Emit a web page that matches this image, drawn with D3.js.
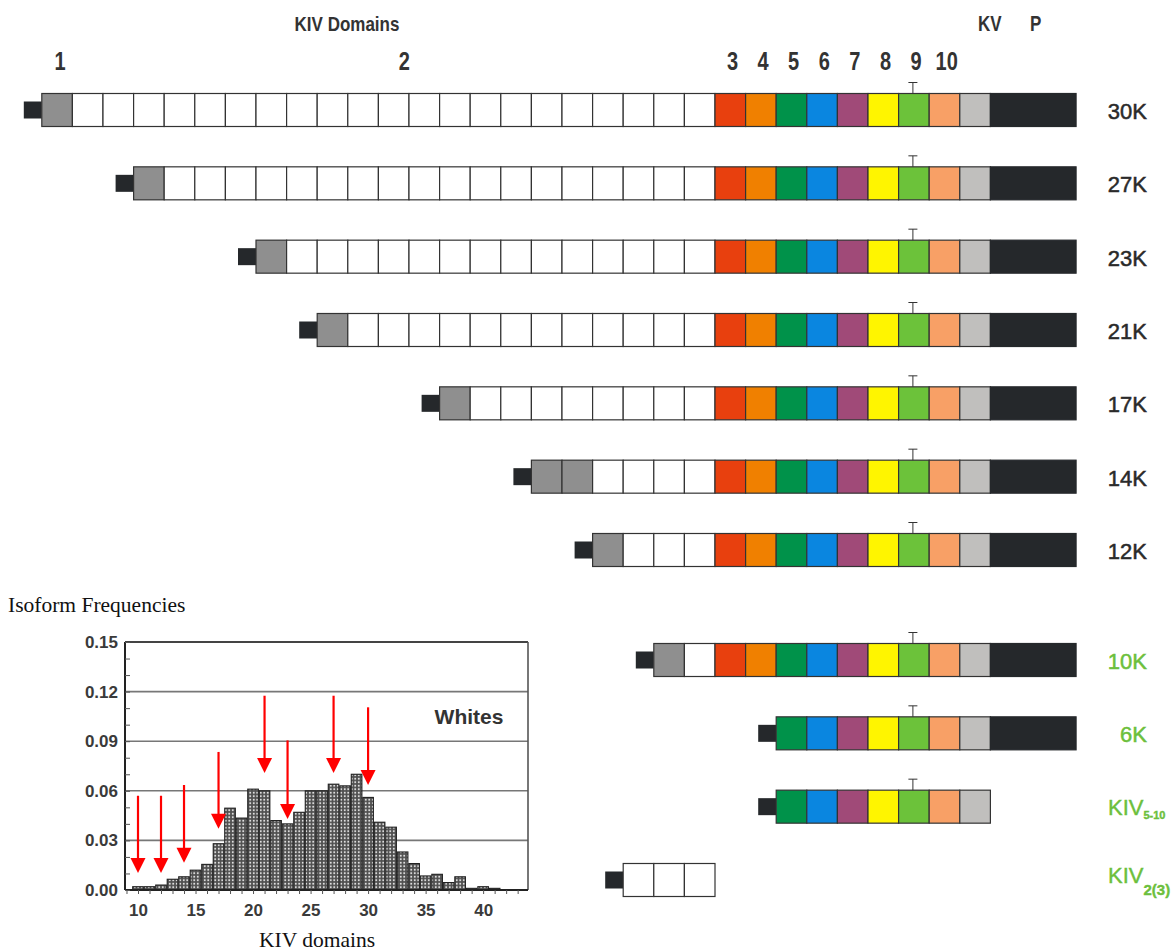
<!DOCTYPE html>
<html>
<head>
<meta charset="utf-8">
<script src="https://cdn.jsdelivr.net/npm/d3@7"></script>
<style>
  html, body { margin: 0; padding: 0; background: #fff; }
  svg { display: block; }
</style>
</head>
<body>
<svg id="chart" width="1175" height="951"></svg>
<script>
// ---------------- DATA ----------------
// Isoform diagram
const isoformMain = ["30K", "27K", "23K", "21K", "17K", "14K", "12K", "10K", "6K", "KIV", "KIV"];
const isoformSub  = ["", "", "", "", "", "", "", "", "", "5-10", "2(3)"];
const isoformHighlight = [false, false, false, false, false, false, false, true, true, true, true];
const kiv2Copies  = [21, 18, 14, 12, 8, 5, 3, 1, 0, 0, 3];
const kiv2GrayCopies = [0, 0, 0, 0, 0, 1, 0, 0, 0, 0, 0];
const firstDomain = ["1", "1", "1", "1", "1", "1", "1", "1", "5", "5", "2"];
const lastDomain  = ["P", "P", "P", "P", "P", "P", "P", "P", "P", "KV", "2"];
const domainOrder = ["1", "2", "3", "4", "5", "6", "7", "8", "9", "10", "KV", "P"];
const domainHeader = ["1", "2", "3", "4", "5", "6", "7", "8", "9", "10", "KV", "P"];

// Histogram (isoform frequencies, Whites)
const histDomains = [10, 11, 12, 13, 14, 15, 16, 17, 18, 19, 20, 21, 22, 23, 24, 25,
                     26, 27, 28, 29, 30, 31, 32, 33, 34, 35, 36, 37, 38, 39, 40, 41];
const histFreq = [0.002, 0.002, 0.003, 0.0065, 0.008, 0.012, 0.0155, 0.028, 0.0495, 0.0435,
                  0.061, 0.060, 0.042, 0.040, 0.047, 0.060, 0.060, 0.064, 0.063, 0.070,
                  0.056, 0.041, 0.038, 0.023, 0.016, 0.0085, 0.0095, 0.0045, 0.008, 0.001,
                  0.002, 0.001];
const yTicks = [0.00, 0.03, 0.06, 0.09, 0.12, 0.15];
const xTicks = [10, 15, 20, 25, 30, 35, 40];
const arrowK    = [10, 12, 14, 17, 21, 23, 27, 30];
const arrowFrom = [0.057, 0.057, 0.0635, 0.0835, 0.1175, 0.0905, 0.1175, 0.1105];
const arrowTo   = [0.0103, 0.0103, 0.0165, 0.037, 0.0708, 0.043, 0.0708, 0.0635];

// ---------------- STYLE ----------------
const domainColor = {
  "1": "#8f8f8f", "2": "#ffffff", "3": "#e8400e", "4": "#f08000", "5": "#00924a",
  "6": "#0a86e0", "7": "#a04a78", "8": "#fff500", "9": "#6cc23a", "10": "#f8a066",
  "KV": "#c0bfbd", "P": "#25282b"
};
const greenLabel = "#6cbf3c";
const darkText = "#2a2a2a";

const svg = d3.select("#chart");
svg.append("rect").attr("width", 1175).attr("height", 951).attr("fill", "#fff");

// ---------------- DIAGRAM ----------------
const colW = 30.6;
const col = d3.scaleLinear().domain([0, 1]).range([715, 715 + colW]);  // column 0 = KIV3
const rowSlot = [0, 1, 2, 3, 4, 5, 6, 7.5, 8.5, 9.5, 10.5];
const rowY = d3.scaleLinear().domain([0, 10.5]).range([110, 880]);
const boxH = 33;
const pCols = 2.8;

function domainCol(d) {  // column for the fixed domains (3..P)
  return domainOrder.indexOf(d) - 2;
}

const isoforms = isoformMain.map((m, i) => {
  const segs = [];
  const n = kiv2Copies[i];
  const fi = domainOrder.indexOf(firstDomain[i]);
  const li = domainOrder.indexOf(lastDomain[i]);
  if (fi <= 0 && li >= 0) segs.push({ dom: "1", c: -n - 1, w: 1 });
  if (fi <= 1 && li >= 1) {
    for (let k = 0; k < n; k++) {
      segs.push({ dom: k < kiv2GrayCopies[i] ? "1" : "2", c: -n + k, w: 1 });
    }
  }
  for (let j = Math.max(fi, 2); j <= li; j++) {
    const d = domainOrder[j];
    segs.push({ dom: d, c: domainCol(d), w: d === "P" ? pCols : 1 });
  }
  return { i, segs, y: rowY(rowSlot[i]) };
});

const diag = svg.append("g");
isoforms.forEach(iso => {
  const g = diag.append("g");
  const start = d3.min(iso.segs, s => col(s.c));
  g.append("rect")
    .attr("x", start - 18).attr("y", iso.y - 8.5)
    .attr("width", 18).attr("height", 17)
    .attr("fill", "#25282b");
  g.selectAll("rect.box").data(iso.segs).join("rect")
    .attr("class", "box")
    .attr("x", s => col(s.c))
    .attr("y", iso.y - boxH / 2)
    .attr("width", s => col(s.c + s.w) - col(s.c))
    .attr("height", boxH)
    .attr("fill", s => domainColor[s.dom])
    .attr("stroke", s => s.dom === "P" ? "#25282b" : "#333")
    .attr("stroke-width", 1.2);
  const s9 = iso.segs.find(s => s.dom === "9");
  if (s9) {
    const cx = (col(s9.c) + col(s9.c + 1)) / 2 - 1;
    const top = iso.y - boxH / 2;
    g.append("line").attr("x1", cx).attr("x2", cx).attr("y1", top - 11).attr("y2", top)
      .attr("stroke", "#333").attr("stroke-width", 1);
    g.append("line").attr("x1", cx - 4.5).attr("x2", cx + 4.5).attr("y1", top - 11).attr("y2", top - 11)
      .attr("stroke", "#333").attr("stroke-width", 1);
  }
  const color = isoformHighlight[iso.i] ? greenLabel : darkText;
  if (isoformSub[iso.i] === "") {
    g.append("text")
      .attr("x", 1147).attr("y", iso.y + 9)
      .attr("text-anchor", "end")
      .attr("font-family", "Liberation Sans, Arial, sans-serif")
      .attr("font-size", 22)
      .attr("fill", color)
      .attr("stroke", color).attr("stroke-width", 0.5)
      .text(isoformMain[iso.i]);
  } else {
    const t = g.append("text")
      .attr("x", 1108).attr("y", iso.y + (iso.i === 9 ? 8 : 3))
      .attr("font-family", "Liberation Sans, Arial, sans-serif")
      .attr("font-size", 22)
      .attr("fill", color)
      .attr("stroke", color).attr("stroke-width", 0.4);
    t.append("tspan").text(isoformMain[iso.i]);
    t.append("tspan")
      .attr("dy", iso.i === 9 ? 4 : 12)
      .attr("font-size", iso.i === 9 ? 11 : 15)
      .attr("font-weight", "bold")
      .text(isoformSub[iso.i]);
  }
});

// Header labels
const headerFont = "Liberation Sans, Arial, sans-serif";
function stretchedText(x, y, txt, size, sy) {
  svg.append("text")
    .attr("transform", `translate(${x},${y}) scale(1,${sy})`)
    .attr("text-anchor", "middle")
    .attr("font-family", headerFont)
    .attr("font-weight", "bold")
    .attr("font-size", size)
    .attr("fill", "#333")
    .text(txt);
}
stretchedText(347, 31, "KIV Domains", 17, 1.2);
const headerColPos = { "1": -21.4, "2": -10.15, "KV": 8.98, "P": 10.48 };
domainHeader.forEach(d => {
  let c, y, size, sy;
  if (d === "KV" || d === "P") { c = headerColPos[d]; y = 31; size = 17; sy = 1.3; }
  else if (d === "1" || d === "2") { c = headerColPos[d]; y = 70; size = 20; sy = 1.25; }
  else { c = domainCol(d) + 0.5 + 0.07; y = 70; size = 20; sy = 1.25; }
  stretchedText(col(c), y, d, size, sy);
});

// ---------------- HISTOGRAM ----------------
const hx = d3.scaleLinear().domain([8.87, 43.9]).range([125, 528]);
const hy = d3.scaleLinear().domain([0, 0.15]).range([890, 642]);
const hist = svg.append("g");

const defs = svg.append("defs");
const pat = defs.append("pattern").attr("id", "dots")
  .attr("patternUnits", "userSpaceOnUse").attr("width", 3.5).attr("height", 3.5);
pat.append("rect").attr("width", 3.5).attr("height", 3.5).attr("fill", "#505050");
pat.append("circle").attr("cx", 1.75).attr("cy", 1.75).attr("r", 1.0).attr("fill", "#e6e6e6");

hist.selectAll("line.grid").data(yTicks.filter(v => v > 0 && v < 0.15)).join("line")
  .attr("x1", hx.range()[0]).attr("x2", hx.range()[1])
  .attr("y1", d => hy(d)).attr("y2", d => hy(d))
  .attr("stroke", "#777").attr("stroke-width", 1.6);
hist.append("line").attr("x1", 125).attr("x2", 528).attr("y1", hy(0.15)).attr("y2", hy(0.15))
  .attr("stroke", "#444").attr("stroke-width", 2);
hist.append("line").attr("x1", 528).attr("x2", 528).attr("y1", hy(0.15)).attr("y2", hy(0))
  .attr("stroke", "#555").attr("stroke-width", 1.6);

const bw = 10.6;
hist.selectAll("rect.bar").data(histDomains).join("rect")
  .attr("class", "bar")
  .attr("x", (d) => hx(d) - bw / 2)
  .attr("y", (d, i) => hy(histFreq[i]))
  .attr("width", bw)
  .attr("height", (d, i) => hy(0) - hy(histFreq[i]))
  .attr("fill", "url(#dots)")
  .attr("stroke", "#222").attr("stroke-width", 1.1);

hist.append("line").attr("x1", 125).attr("x2", 125).attr("y1", hy(0.15)).attr("y2", hy(0))
  .attr("stroke", "#222").attr("stroke-width", 2);
hist.append("line").attr("x1", 125).attr("x2", 528).attr("y1", hy(0)).attr("y2", hy(0))
  .attr("stroke", "#222").attr("stroke-width", 2);

const yAxis = d3.axisLeft(hy).tickValues(yTicks).tickFormat(d3.format(".2f")).tickSize(0).tickPadding(7);
const ya = hist.append("g").attr("transform", "translate(125,0)").call(yAxis);
ya.select(".domain").remove();
ya.selectAll("text")
  .attr("font-family", "Liberation Sans, Arial, sans-serif")
  .attr("font-weight", "bold").attr("font-size", 17).attr("fill", "#3a3a3a");
const yMinor = d3.axisRight(hy).ticks(15).tickSize(5).tickFormat("");
const ym = hist.append("g").attr("transform", "translate(125,0)").call(yMinor);
ym.select(".domain").remove();
ym.selectAll("line").attr("stroke", "#555").attr("stroke-width", 1);

const xAxis = d3.axisBottom(hx).tickValues(xTicks).tickFormat(d3.format("d")).tickSize(0).tickPadding(14);
const xa = hist.append("g").attr("transform", `translate(0,${hy(0)})`).call(xAxis);
xa.select(".domain").remove();
xa.selectAll("text")
  .attr("font-family", "Liberation Sans, Arial, sans-serif")
  .attr("font-weight", "bold").attr("font-size", 17).attr("fill", "#3a3a3a");
const xMinor = d3.axisBottom(hx).tickValues(d3.range(9, 44)).tickSize(4).tickFormat("");
const xm = hist.append("g").attr("transform", `translate(0,${hy(0)})`).call(xMinor);
xm.select(".domain").remove();
xm.selectAll("line").attr("stroke", "#555").attr("stroke-width", 1);

hist.append("text").attr("x", 469).attr("y", 724).attr("text-anchor", "middle")
  .attr("font-family", "Liberation Sans, Arial, sans-serif")
  .attr("font-weight", "bold").attr("font-size", 21).attr("fill", "#333")
  .text("Whites");

const headH = 15, headW = 15;
arrowK.forEach((k, i) => {
  const x = hx(k);
  const y0 = hy(arrowFrom[i]);
  const y1 = hy(arrowTo[i]);
  hist.append("line").attr("x1", x).attr("x2", x).attr("y1", y0).attr("y2", y1 - headH + 2)
    .attr("stroke", "#ff0000").attr("stroke-width", 2.2);
  hist.append("path")
    .attr("d", `M${x - headW / 2},${y1 - headH} L${x + headW / 2},${y1 - headH} L${x},${y1} Z`)
    .attr("fill", "#ff0000");
});

svg.append("text").attr("x", 8).attr("y", 612)
  .attr("font-family", "Liberation Serif, 'Times New Roman', serif")
  .attr("font-size", 21.5).attr("fill", "#111")
  .text("Isoform Frequencies");
svg.append("text").attr("x", 317).attr("y", 947).attr("text-anchor", "middle")
  .attr("font-family", "Liberation Serif, 'Times New Roman', serif")
  .attr("font-size", 21.5).attr("fill", "#111")
  .text("KIV domains");
</script>
</body>
</html>
